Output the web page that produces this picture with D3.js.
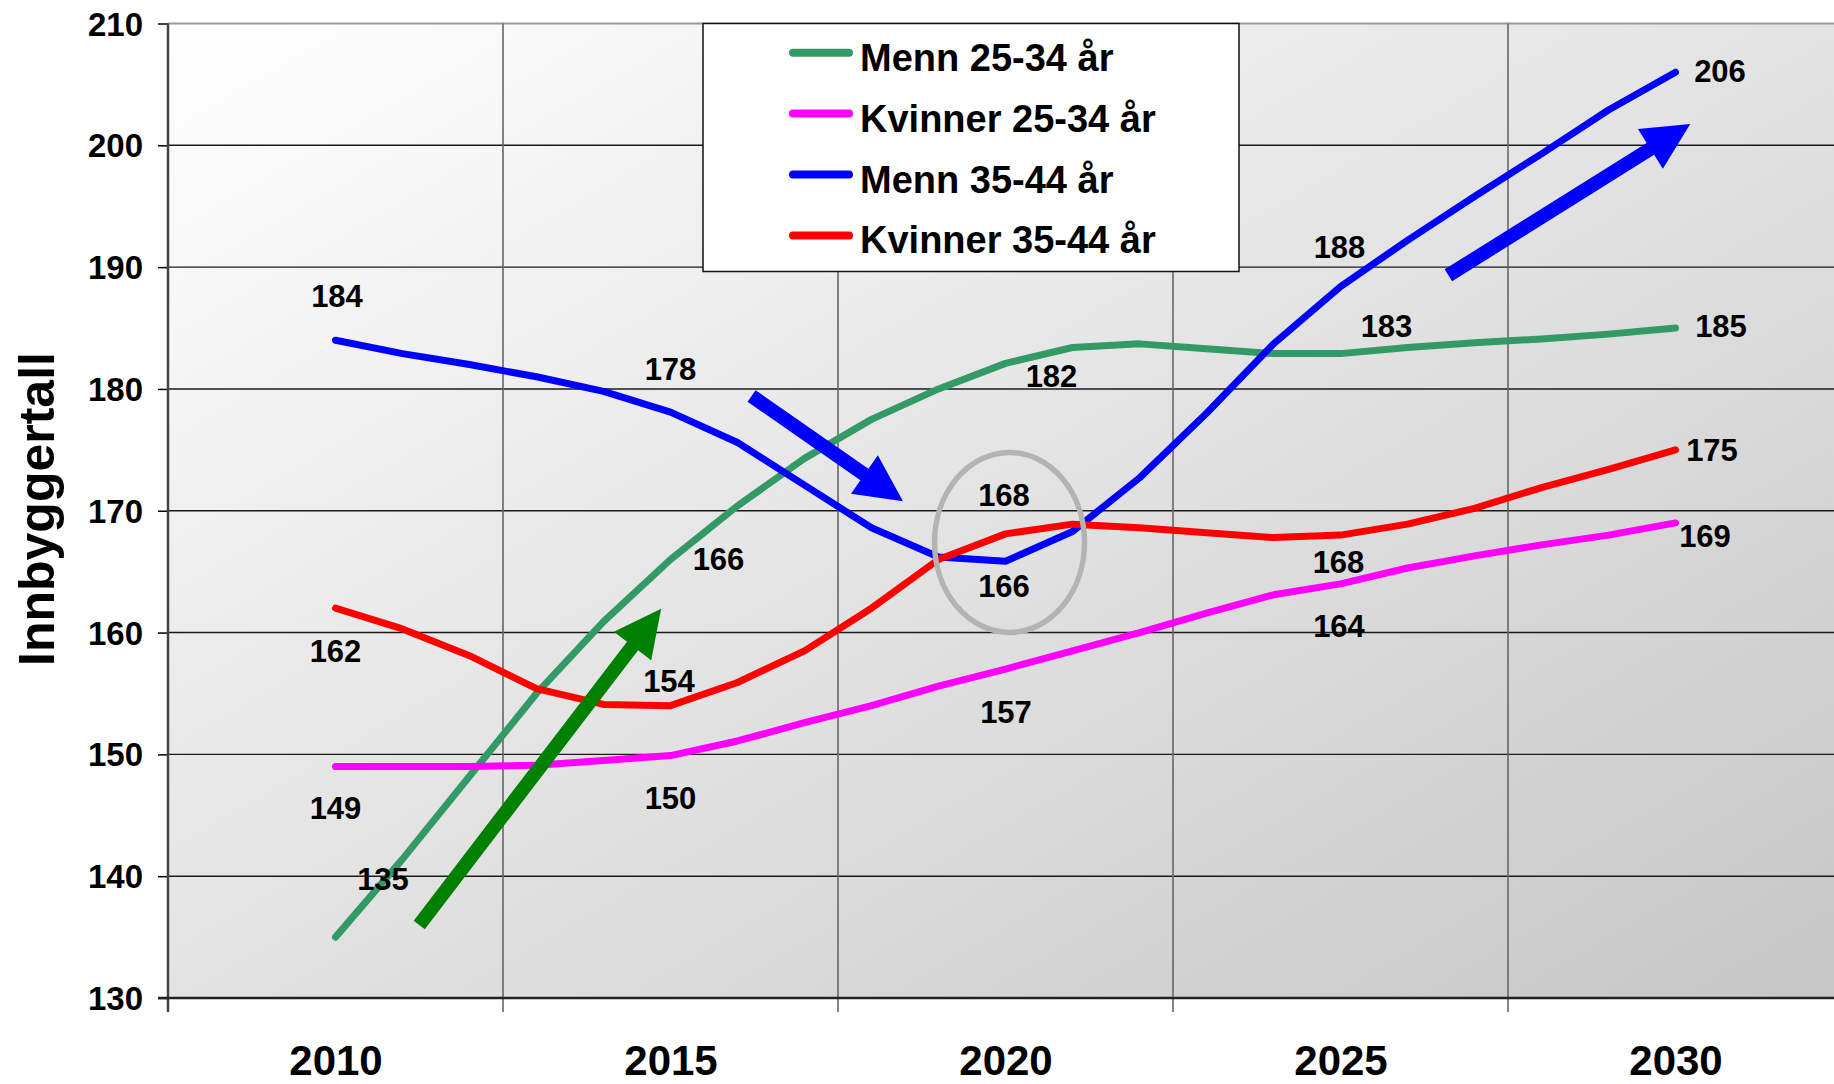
<!DOCTYPE html>
<html><head><meta charset="utf-8">
<script src="https://cdn.jsdelivr.net/npm/d3@7"></script>
<style>
html,body{margin:0;padding:0;background:#fff;overflow:hidden}
svg text{font-family:"Liberation Sans",Arial,sans-serif;font-weight:bold;fill:#000}
</style></head><body>
<svg id="chart" width="1834" height="1084"></svg>
<script>
// ---- data ----
const categories = [2010,2011,2012,2013,2014,2015,2016,2017,2018,2019,2020,2021,2022,2023,2024,2025,2026,2027,2028,2029,2030];
const menn2534    = [135,141.4,148.2,155.0,160.9,166.0,170.4,174.3,177.5,180.0,182.1,183.4,183.7,183.3,182.9,182.9,183.4,183.8,184.1,184.5,185.0];
const kvinner2534 = [149,149.0,149.0,149.1,149.5,149.9,151.1,152.6,154.0,155.6,157.0,158.5,160.0,161.6,163.1,164.0,165.3,166.3,167.2,168.0,169.0];
const menn3544    = [184,182.9,182.0,181.0,179.8,178.1,175.6,172.1,168.6,166.2,165.85,168.3,172.7,178.0,183.7,188.4,192.2,195.8,199.3,202.9,206.0];
const kvinner3544 = [162,160.3,158.1,155.4,154.1,154.0,155.9,158.5,162.0,166.0,168.1,168.9,168.6,168.2,167.8,168.0,168.9,170.2,171.9,173.4,175.0];
const seriesNames  = ["Menn 25-34 år","Kvinner 25-34 år","Menn 35-44 år","Kvinner 35-44 år"];
const seriesValues = [menn2534, kvinner2534, menn3544, kvinner3544];
const seriesColors = ["#339966","#ff00ff","#0000ff","#ff0000"];
const xTickLabels  = ["2010","2015","2020","2025","2030"];
const yTickValues  = [130,140,150,160,170,180,190,200,210];
const yAxisTitle   = "Innbyggertall";

// ---- layout (label offsets in px, annotations in data space) ----
const labelLayout = [
  [2,2010,1.5,-33],[3,2010,0,53.5],[1,2010,0,52.6],[0,2010,47.5,-46.6],
  [2,2015,0,-31.8],[3,2015,-1.5,-13.8],[1,2015,0,53.5],[0,2015,48,10.75],
  [0,2020,46,24],[3,2020,-1.5,-28],[2,2020,-1.5,36],[1,2020,0.5,53.8],
  [2,2025,-1,-28.5],[0,2025,46,-17],[3,2025,-2,38],[1,2025,-1.5,53.4],
  [2,2030,44.5,10],[0,2030,45.5,8.6],[3,2030,36.5,11],[1,2030,29.5,24.3]
];
const arrows = [
  {from:[2011.25,136.0], to:[2014.86,161.96], color:"#008000"},
  {from:[2016.21,179.42], to:[2018.47,170.77], color:"#0000ff"},
  {from:[2026.61,189.33], to:[2030.22,201.75], color:"#0000ff"}
];
const ellipseAt = [2020.06, 167.4];

// ---- scales ----
const L = 168, T = 23.5, B = 998, BW = 67;
const x = d3.scaleLinear().domain([2007.5, 2032.5]).range([L, L + 25 * BW]);
const y = d3.scaleLinear().domain([130, 210]).range([B, T]);
const svg = d3.select("#chart");
const W = 1834;

const defs = svg.append("defs");
const grad = defs.append("linearGradient").attr("id","bg")
  .attr("x1","0").attr("y1","0").attr("x2","1").attr("y2","1");
grad.append("stop").attr("offset","0").attr("stop-color","#ffffff");
grad.append("stop").attr("offset","1").attr("stop-color","#c6c6c6");

svg.append("rect").attr("x", L).attr("y", T)
  .attr("width", x(2032.5) - L).attr("height", B - T).attr("fill","url(#bg)");

// horizontal gridlines
svg.append("g").selectAll("line").data(yTickValues.filter(v => v > 130 && v < 210)).join("line")
  .attr("x1", L).attr("x2", W).attr("y1", d => y(d)).attr("y2", d => y(d))
  .attr("stroke","#1a1a1a").attr("stroke-width",1.4);
// top border
svg.append("line").attr("x1", L).attr("x2", W).attr("y1", y(210)).attr("y2", y(210))
  .attr("stroke","#999").attr("stroke-width",2.2);

// vertical gridlines (category group boundaries)
const vLines = [2012.5, 2017.5, 2022.5, 2027.5];
svg.append("g").selectAll("line").data(vLines).join("line")
  .attr("x1", d => x(d)).attr("x2", d => x(d)).attr("y1", T).attr("y2", B + 14)
  .attr("stroke","#666").attr("stroke-width",1.6);

// y axis
const yAxis = svg.append("g").attr("transform", `translate(${L},0)`)
  .call(d3.axisLeft(y).tickValues(yTickValues).tickSize(10).tickPadding(15).tickFormat(d3.format("d")));
yAxis.select(".domain").remove();
yAxis.selectAll(".tick line").attr("stroke","#000").attr("stroke-width",1.5);
yAxis.selectAll(".tick text").attr("font-size",33).attr("dy",null).attr("y",11.5)
  .style("font-family",'"Liberation Sans",Arial,sans-serif').style("font-weight","bold");
svg.append("line").attr("x1", L).attr("x2", L).attr("y1", T).attr("y2", B + 14)
  .attr("stroke","#444").attr("stroke-width",2.5);

// x axis
const xAxis = svg.append("g").attr("transform", `translate(0,${B})`)
  .call(d3.axisBottom(x).tickValues(xTickLabels.map(Number)).tickSize(0).tickFormat((d,i) => xTickLabels[i]));
xAxis.select(".domain").remove();
xAxis.selectAll(".tick text").attr("font-size",42).attr("dy",null).attr("y",77)
  .style("font-family",'"Liberation Sans",Arial,sans-serif').style("font-weight","bold");
svg.append("line").attr("x1", L - 10).attr("x2", W).attr("y1", B).attr("y2", B)
  .attr("stroke","#222").attr("stroke-width",2.5);

// y title
svg.append("text").attr("transform","rotate(-90)").attr("x", -509).attr("y", 54)
  .attr("text-anchor","middle").attr("font-size",50).text(yAxisTitle);

// lines
const line = d3.line().x((d,i) => x(categories[i])).y(d => y(d));
svg.append("g").selectAll("path").data(seriesValues).join("path")
  .attr("d", line).attr("fill","none")
  .attr("stroke", (d,i) => seriesColors[i]).attr("stroke-width",7)
  .attr("stroke-linecap","round").attr("stroke-linejoin","round");

// data labels
svg.append("g").selectAll("text").data(labelLayout).join("text")
  .attr("x", d => x(d[1]) + d[2])
  .attr("y", d => y(seriesValues[d[0]][categories.indexOf(d[1])]) + d[3])
  .attr("text-anchor","middle").attr("font-size",31)
  .text(d => Math.round(seriesValues[d[0]][categories.indexOf(d[1])]));

// ellipse
svg.append("ellipse").attr("cx", x(ellipseAt[0])).attr("cy", y(ellipseAt[1]))
  .attr("rx",75).attr("ry",90).attr("fill","none")
  .attr("stroke","#b3b3b3").attr("stroke-width",5.5);

// arrows
function arrowPts(a){
  const x0 = x(a.from[0]), y0 = y(a.from[1]), x1 = x(a.to[0]), y1 = y(a.to[1]);
  const len = Math.hypot(x1-x0, y1-y0), ux = (x1-x0)/len, uy = (y1-y0)/len;
  const nx = -uy, ny = ux, w = 7, hw = 23.5, hl = 47;
  const bx = x1 - ux*hl, by = y1 - uy*hl;
  return [[x0+nx*w,y0+ny*w],[bx+nx*w,by+ny*w],[bx+nx*hw,by+ny*hw],[x1,y1],
          [bx-nx*hw,by-ny*hw],[bx-nx*w,by-ny*w],[x0-nx*w,y0-ny*w]];
}
svg.append("g").selectAll("polygon").data(arrows).join("polygon")
  .attr("points", d => arrowPts(d).map(p => p.join(",")).join(" "))
  .attr("fill", d => d.color);

// legend
const lg = svg.append("g");
lg.append("rect").attr("x",703).attr("y",23.5).attr("width",536).attr("height",248)
  .attr("fill","#fff").attr("stroke","#111").attr("stroke-width",1.5);
const rows = lg.selectAll("g.row").data(seriesNames).join("g").attr("class","row")
  .attr("transform",(d,i) => `translate(0,${52.7 + i*60.9})`);
rows.append("line").attr("x1",793).attr("x2",849).attr("y1",0).attr("y2",0)
  .attr("stroke",(d,i) => seriesColors[i]).attr("stroke-width",8).attr("stroke-linecap","round");
rows.append("text").attr("x",860).attr("y",18).attr("font-size",38).text(d => d);
</script>
</body></html>
